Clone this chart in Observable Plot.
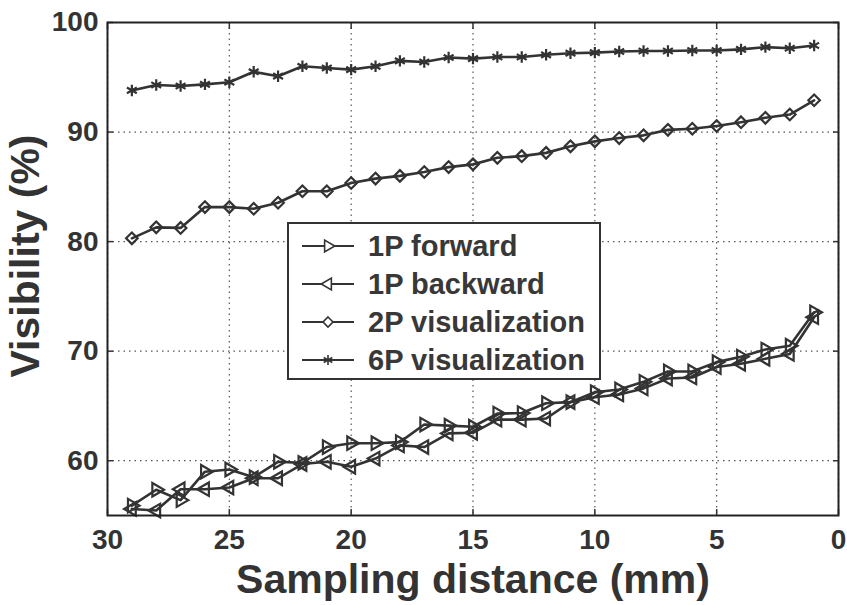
<!DOCTYPE html>
<html>
<head>
<meta charset="utf-8">
<script src="https://cdn.jsdelivr.net/npm/d3@7"></script>
<script src="https://cdn.jsdelivr.net/npm/@observablehq/plot@0.6"></script>
<style>
  body { margin: 0; background: #fff; }
  #wrap { position: relative; width: 847px; height: 605px; font-family: "Liberation Sans", Arial, sans-serif; color: #333; }
  #wrap > svg { position: absolute; left: 0; top: 0; }
  #legend { position: absolute; left: 287px; top: 222px; width: 310px; height: 154px; border: 2px solid #333; background: #fff; }
  .row { position: absolute; left: 0; height: 38px; display: flex; align-items: center; }
  .row svg { margin-left: 13px; margin-right: 14px; }
  .row span { font-size: 29px; font-weight: bold; color: #383838; white-space: nowrap; }
</style>
</head>
<body>
<div id="wrap"></div>
<script>
// Sampling distance (mm)
const distance = [29,28,27,26,25,24,23,22,21,20,19,18,17,16,15,14,13,12,11,10,9,8,7,6,5,4,3,2,1];
// Visibility (%) per method
const forward1P  = [55.9,57.35,56.4,59.0,59.2,58.5,59.9,59.8,61.25,61.6,61.6,61.7,63.3,63.2,63.1,64.3,64.35,65.25,65.35,66.25,66.5,67.2,68.15,68.15,69.0,69.5,70.15,70.5,73.55];
const backward1P = [55.6,55.45,57.4,57.4,57.55,58.4,58.4,59.7,59.9,59.45,60.2,61.4,61.25,62.5,62.55,63.75,63.75,63.85,65.35,65.8,66.05,66.6,67.5,67.6,68.55,68.85,69.3,69.75,73.1];
const vis2P      = [80.3,81.3,81.25,83.15,83.15,83.0,83.55,84.6,84.6,85.35,85.75,86.0,86.35,86.8,87.05,87.65,87.8,88.1,88.7,89.15,89.45,89.7,90.2,90.3,90.55,90.9,91.3,91.6,92.9];
const vis6P      = [93.8,94.3,94.2,94.35,94.55,95.5,95.1,96.0,95.85,95.7,96.0,96.5,96.4,96.8,96.7,96.85,96.85,97.05,97.2,97.25,97.35,97.4,97.4,97.45,97.45,97.55,97.75,97.65,97.9];

const seriesNames = ["1P forward", "1P backward", "2P visualization", "6P visualization"];
const seriesValues = [forward1P, backward1P, vis2P, vis6P];
const xTicks = [30, 25, 20, 15, 10, 5, 0];
const yTicks = [60, 70, 80, 90, 100];
const xLabel = "Sampling distance (mm)";
const yLabel = "Visibility (%)";

const rows = [];
seriesNames.forEach((s, i) => distance.forEach((d, j) => rows.push({series: s, distance: d, value: seriesValues[i][j]})));

const ink = "#333";
const markerStyle = {
  "1P forward":       {symbol: "triangle", rotate: 90,  r: 5},
  "1P backward":      {symbol: "triangle", rotate: -90, r: 5},
  "2P visualization": {symbol: "diamond2", rotate: 0,   r: 5.2},
  "6P visualization": {symbol: "asterisk", rotate: 0,   r: 5.4}
};

const dots = seriesNames.map(s => Plot.dot(rows.filter(r => r.series === s), {
  x: "distance", y: "value",
  symbol: markerStyle[s].symbol, rotate: markerStyle[s].rotate, r: markerStyle[s].r,
  stroke: ink, strokeWidth: 2.2, fill: "none"
}));

const gridStyle = {stroke: "#555", strokeOpacity: 1, strokeWidth: 1.2, strokeDasharray: "1.5,4"};
const innerTicks = {tickSize: -6, fill: "none", label: null, stroke: "#333", strokeWidth: 1.5};

const chart = Plot.plot({
  width: 847, height: 605,
  marginLeft: 107, marginRight: 9, marginTop: 22, marginBottom: 90,
  style: {fontFamily: "'Liberation Sans', Arial, sans-serif", color: ink, background: "transparent"},
  x: {domain: [30, 0]},
  y: {domain: [55, 100]},
  marks: [
    Plot.gridX(xTicks, gridStyle),
    Plot.gridY(yTicks, gridStyle),
    Plot.axisX(xTicks, {anchor: "bottom", ...innerTicks}),
    Plot.axisX(xTicks, {anchor: "top", ...innerTicks}),
    Plot.axisY(yTicks, {anchor: "left", ...innerTicks}),
    Plot.axisY(yTicks, {anchor: "right", ...innerTicks}),
    Plot.axisX(xTicks, {anchor: "bottom", tickSize: 0, tickPadding: 14, fontSize: 28, fontWeight: "bold", label: null}),
    Plot.axisY(yTicks, {anchor: "left", tickSize: 0, tickPadding: 9, fontSize: 28, fontWeight: "bold", label: null}),
    Plot.line(rows, {x: "distance", y: "value", z: "series", stroke: ink, strokeWidth: 2.6}),
    ...dots,
    Plot.frame({stroke: "#222", strokeWidth: 2}),
    Plot.text([xLabel], {text: d => d, frameAnchor: "bottom", lineAnchor: "middle", textAnchor: "middle", dy: 64, fontSize: 41, fontWeight: "bold", fill: ink}),
    Plot.text([yLabel], {text: d => d, frameAnchor: "left", lineAnchor: "middle", textAnchor: "middle", dx: -82, dy: -13, rotate: -90, fontSize: 41, fontWeight: "bold", fill: ink})
  ]
});

const wrap = document.getElementById("wrap");
wrap.appendChild(chart);

// Legend
const legend = document.createElement("div");
legend.id = "legend";
const symbolTypes = {triangle: d3.symbolTriangle, diamond2: d3.symbolDiamond2, asterisk: d3.symbolAsterisk};
seriesNames.forEach((s, i) => {
  const row = document.createElement("div");
  row.className = "row";
  row.style.top = (3 + i * 38) + "px";
  const m = markerStyle[s];
  const path = d3.symbol().type(symbolTypes[m.symbol]).size(m.r * m.r * Math.PI * 0.75)();
  row.innerHTML = `<svg width="52" height="20" viewBox="0 0 52 20">
      <line x1="0" y1="10" x2="52" y2="10" stroke="${ink}" stroke-width="2"/>
      <path d="${path}" transform="translate(26,10) rotate(${m.rotate})" fill="#fff" stroke="${ink}" stroke-width="1.6"/>
    </svg><span>${s}</span>`;
  legend.appendChild(row);
});
wrap.appendChild(legend);
</script>
</body>
</html>
